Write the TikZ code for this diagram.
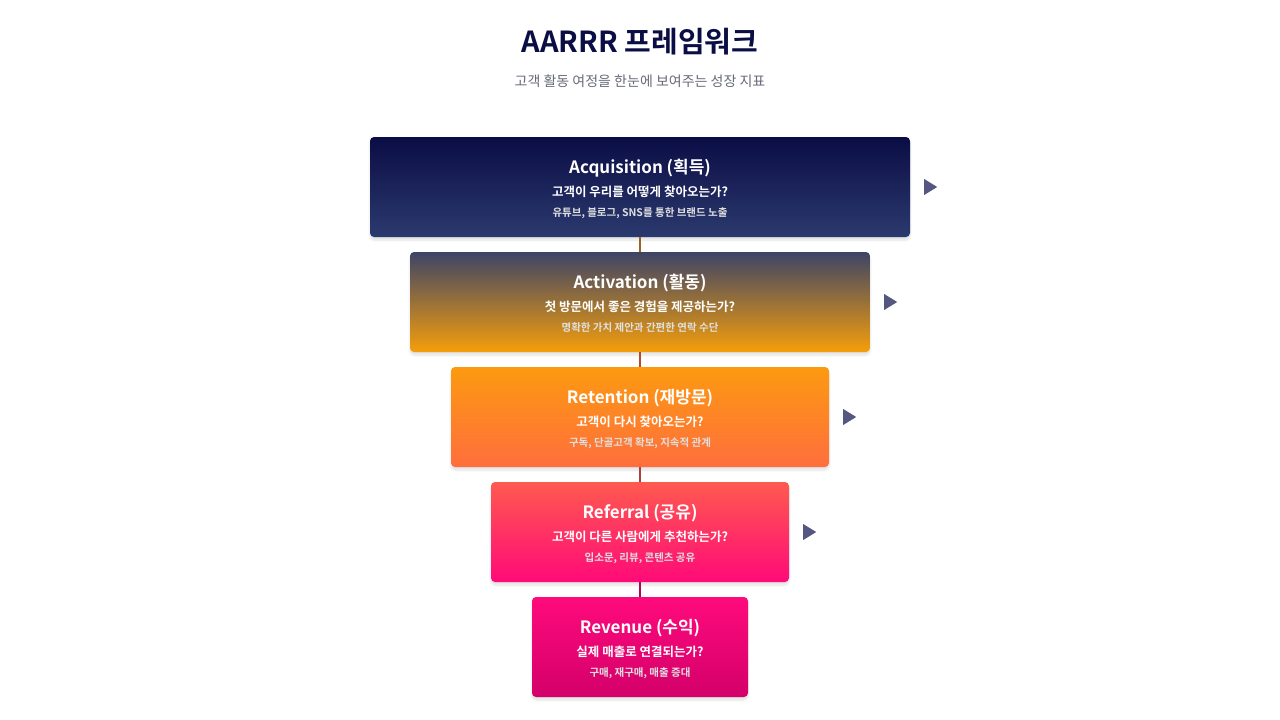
\documentclass[tikz,border=0pt]{standalone}
\usepackage{fontspec}
\setmainfont{Noto Sans CJK KR}
\newfontfamily\krbold{Noto Sans CJK KR Bold}
\usetikzlibrary{positioning,shadows.blur}
\definecolor{navy}{HTML}{0B0D45}
\definecolor{navylow}{HTML}{2B3A6E}
\definecolor{slate}{HTML}{3D4466}
\definecolor{amber}{HTML}{F59E0B}
\definecolor{orangetop}{HTML}{FC9A10}
\definecolor{orangelow}{HTML}{FF6E3D}
\definecolor{coral}{HTML}{FF5A4F}
\definecolor{pink}{HTML}{FF0A78}
\definecolor{magenta}{HTML}{FF0A7C}
\definecolor{berry}{HTML}{D3006A}
\definecolor{pointer}{HTML}{565780}
\definecolor{subgray}{HTML}{666A78}
\tikzset{
  stage/.style={rounded corners=4pt, minimum height=100pt, inner sep=0pt,
    blur shadow={shadow xshift=0pt, shadow yshift=-3pt, shadow blur steps=8, shadow opacity=12}},
  stagetitle/.style={text=white, font=\krbold\fontsize{17}{20}\selectfont},
  stageq/.style={text=white, font=\krbold\fontsize{12.5}{15}\selectfont},
  stagenote/.style={text=white!88!black, font=\krbold\fontsize{10.5}{13}\selectfont},
  pointer/.style={fill=pointer, draw=none},
  link/.style={line width=1.3pt, draw=#1}
}
\begin{document}
\begin{tikzpicture}[x=1pt, y=1pt]
  \useasboundingbox (0,0) rectangle (1280,-720);

  \node[font=\krbold\fontsize{29}{34}\selectfont, text=navy] (title) at (640,-42) {AARRR 프레임워크};
  \node[font=\fontsize{14}{17}\selectfont, text=subgray] (subtitle) at (640,-81) {고객 활동 여정을 한눈에 보여주는 성장 지표};

  % stages
  \node[stage, minimum width=540pt, top color=navy, bottom color=navylow] (acq) at (640,-187) {};
  \node[stage, minimum width=460pt, top color=slate, bottom color=amber] (act) at (640,-302) {};
  \node[stage, minimum width=378pt, top color=orangetop, bottom color=orangelow] (ret) at (640,-417) {};
  \node[stage, minimum width=298pt, top color=coral, bottom color=pink] (ref) at (640,-532) {};
  \node[stage, minimum width=216pt, top color=magenta, bottom color=berry] (rev) at (640,-647) {};

  \node[stagetitle] (acqT) at ([yshift=-31pt]acq.north) {Acquisition (획득)};
  \node[stageq] (acqQ) at ([yshift=-55pt]acq.north) {고객이 우리를 어떻게 찾아오는가?};
  \node[stagenote] (acqN) at ([yshift=-76pt]acq.north) {유튜브, 블로그, SNS를 통한 브랜드 노출};

  \node[stagetitle] (actT) at ([yshift=-31pt]act.north) {Activation (활동)};
  \node[stageq] (actQ) at ([yshift=-55pt]act.north) {첫 방문에서 좋은 경험을 제공하는가?};
  \node[stagenote] (actN) at ([yshift=-76pt]act.north) {명확한 가치 제안과 간편한 연락 수단};

  \node[stagetitle] (retT) at ([yshift=-31pt]ret.north) {Retention (재방문)};
  \node[stageq] (retQ) at ([yshift=-55pt]ret.north) {고객이 다시 찾아오는가?};
  \node[stagenote] (retN) at ([yshift=-76pt]ret.north) {구독, 단골고객 확보, 지속적 관계};

  \node[stagetitle] (refT) at ([yshift=-31pt]ref.north) {Referral (공유)};
  \node[stageq] (refQ) at ([yshift=-55pt]ref.north) {고객이 다른 사람에게 추천하는가?};
  \node[stagenote] (refN) at ([yshift=-76pt]ref.north) {입소문, 리뷰, 콘텐츠 공유};

  \node[stagetitle] (revT) at ([yshift=-31pt]rev.north) {Revenue (수익)};
  \node[stageq] (revQ) at ([yshift=-55pt]rev.north) {실제 매출로 연결되는가?};
  \node[stagenote] (revN) at ([yshift=-76pt]rev.north) {구매, 재구매, 매출 증대};

  % links
  \draw[link=amber!60!navy] (acq.south) -- (act.north);
  \draw[link=orangelow!70!black] (act.south) -- (ret.north);
  \draw[link=coral!70!black] (ret.south) -- (ref.north);
  \draw[link=pink!70!black] (ref.south) -- (rev.north);

  % pointers
  \fill[pointer] ([xshift=14pt,yshift=8pt]acq.east) -- ++(13,-8) -- ++(-13,-8) -- cycle;
  \fill[pointer] ([xshift=14pt,yshift=8pt]act.east) -- ++(13,-8) -- ++(-13,-8) -- cycle;
  \fill[pointer] ([xshift=14pt,yshift=8pt]ret.east) -- ++(13,-8) -- ++(-13,-8) -- cycle;
  \fill[pointer] ([xshift=14pt,yshift=8pt]ref.east) -- ++(13,-8) -- ++(-13,-8) -- cycle;
\end{tikzpicture}
\end{document}
